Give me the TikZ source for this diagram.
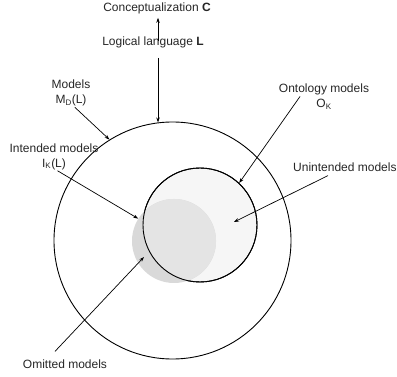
\documentclass[tikz,border=0pt]{standalone}
\usepackage{fontspec}
\setmainfont{Liberation Sans}
\usetikzlibrary{arrows.meta}

\begin{document}
\begin{tikzpicture}[x=1pt,y=-1pt,
  lbl/.style={inner sep=1pt,font=\fontsize{12}{15}\selectfont,text=black!85,align=center},
  ring/.style={circle,draw,line width=0.9pt,inner sep=0pt},
  ptr/.style={line width=0.7pt,-{Stealth[length=5pt,width=3.5pt]}}]
\useasboundingbox (0,0) rectangle (397,377);

% model sets
\node[ring,minimum size=237pt] (mods) at (172.5,240.5) {};
\node[ring,fill=gray!7,minimum size=114pt] (onto) at (200,225) {};
\node[circle,inner sep=0pt,fill=gray!30,minimum size=84pt] (intd) at (174,241) {};
\begin{scope}
  \clip (onto.center) circle[radius=57pt];
  \fill[gray!21] (intd.center) circle[radius=42pt];
\end{scope}
\node[ring,minimum size=114pt] at (onto.center) {};
\coordinate (omit) at (144,257);
\coordinate (unint) at (234,222);

% labels
\node[lbl] (clab) at (157,8) {Conceptualization \textbf{C}};
\node[lbl] (llab) at (153,42) {Logical language \textbf{L}};
\node[lbl] (mlab) at (71,93) {Models\\M\textsubscript{D}(L)};
\node[lbl] (ilab) at (54,156.5) {Intended models\\I\textsubscript{K}(L)};
\node[lbl] (olab) at (324,96.5) {Ontology models\\O\textsubscript{K}};
\node[lbl,anchor=west] (ulab) at (292,167) {Unintended models};
\node[lbl] (xlab) at (65,364) {Omitted models};

\draw[ptr,shorten <=-6pt,shorten >=3pt] (llab.north -| mods.97) -- (clab.south -| mods.97);
\draw[ptr,shorten <=9pt] (llab.south -| mods.97) -- (mods.97);
\draw[ptr] (mlab.-75) -- (mods.122);
\draw[ptr] (ilab.-76) -- (intd.148);
\draw[ptr] ([xshift=-24pt]olab.center) -- (onto.47);
\draw[ptr] ([xshift=36pt,yshift=-3pt]ulab.south west) -- (unint);
\draw[ptr] ([xshift=-10pt,yshift=7pt]xlab.north) -- (omit);
\end{tikzpicture}
\end{document}
